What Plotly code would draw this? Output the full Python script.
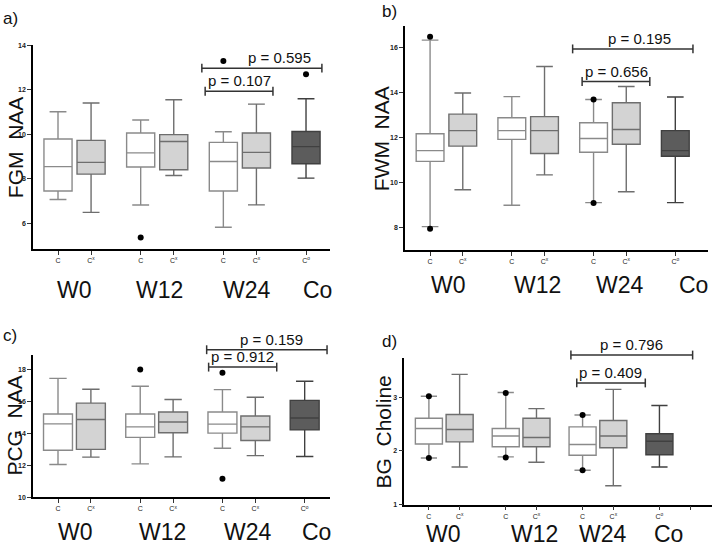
import plotly.graph_objects as go

FONT = "Liberation Sans, Arial, sans-serif"

# ---------------- data ----------------
groups = ["W0", "W12", "W24", "Co"]
tick_labels = ["C", "C<sup>x</sup>", "C", "C<sup>x</sup>", "C", "C<sup>x</sup>", "C<sup>o</sup>"]
panel_titles = ["FGM  NAA", "FWM  NAA", "PCG  NAA", "BG  Choline"]
panel_letters = ["a)", "b)", "c)", "d)"]

# FGM NAA (panel a) : C boxes (W0, W12, W24), Cx boxes (W0, W12, W24), Co box
a_c_low = [7.07, 6.82, 5.82]
a_c_q1 = [7.45, 8.53, 7.45]
a_c_med = [8.55, 9.17, 8.78]
a_c_q3 = [9.79, 10.06, 9.64]
a_c_up = [11.02, 10.65, 10.12]
a_cx_low = [6.49, 8.15, 6.83]
a_cx_q1 = [8.21, 8.41, 8.49]
a_cx_med = [8.74, 9.68, 9.19]
a_cx_q3 = [9.73, 9.99, 10.06]
a_cx_up = [11.41, 11.56, 11.36]
a_co = [8.03, 8.68, 9.45, 10.13, 11.60]
a_out_box = [2, 4, 6]
a_out_val = [5.36, 13.30, 12.71]
a_p = ["p = 0.595", "p = 0.107"]

# FWM NAA (panel b)
b_c_low = [8.03, 8.98, 9.10]
b_c_q1 = [10.93, 11.91, 11.34]
b_c_med = [11.41, 12.30, 11.95]
b_c_q3 = [12.16, 12.87, 12.65]
b_c_up = [16.32, 13.81, 13.68]
b_cx_low = [9.67, 10.33, 9.58]
b_cx_q1 = [11.61, 11.28, 11.69]
b_cx_med = [12.30, 12.30, 12.35]
b_cx_q3 = [13.03, 12.92, 13.54]
b_cx_up = [13.97, 15.15, 14.26]
b_co = [9.10, 11.16, 11.41, 12.30, 13.79]
b_out_box = [0, 0, 4, 4]
b_out_val = [16.47, 7.94, 13.68, 9.08]
b_p = ["p = 0.195", "p = 0.656"]

# PCG NAA (panel c)
c_c_low = [12.06, 12.10, 13.08]
c_c_q1 = [12.95, 13.76, 14.03]
c_c_med = [14.61, 14.42, 14.59]
c_c_q3 = [15.23, 15.23, 15.35]
c_c_up = [17.46, 16.97, 16.76]
c_cx_low = [12.52, 12.54, 12.62]
c_cx_q1 = [13.01, 14.05, 13.57]
c_cx_med = [14.88, 14.73, 14.42]
c_cx_q3 = [15.91, 15.35, 15.10]
c_cx_up = [16.78, 16.14, 16.28]
c_co = [12.56, 14.23, 14.98, 16.08, 17.28]
c_out_box = [2, 4, 4]
c_out_val = [18.02, 17.81, 11.17]
c_p = ["p = 0.159", "p = 0.912"]

# BG Choline (panel d)
d_c_low = [1.87, 1.89, 1.64]
d_c_q1 = [2.13, 2.08, 1.92]
d_c_med = [2.42, 2.28, 2.12]
d_c_q3 = [2.61, 2.42, 2.45]
d_c_up = [3.02, 3.09, 2.67]
d_cx_low = [1.70, 1.79, 1.35]
d_cx_q1 = [2.17, 2.08, 2.06]
d_cx_med = [2.40, 2.25, 2.28]
d_cx_q3 = [2.68, 2.61, 2.57]
d_cx_up = [3.43, 2.79, 3.15]
d_co = [1.70, 1.93, 2.18, 2.32, 2.85]
d_out_box = [0, 0, 2, 2, 4, 4]
d_out_val = [3.02, 1.87, 3.08, 1.88, 2.67, 1.64]
d_p = ["p = 0.796", "p = 0.409"]

# ---------------- layout (positions / styles) ----------------
W, H = 712, 550
slots = [0, 1, 2.5, 3.5, 5, 6, 7.5]
c_slots = [slots[0], slots[2], slots[4]]
cx_slots = [slots[1], slots[3], slots[5]]

panels = [
    dict(data=(a_c_low, a_c_q1, a_c_med, a_c_q3, a_c_up, a_cx_low, a_cx_q1, a_cx_med, a_cx_q3, a_cx_up, a_co,
               a_out_box, a_out_val, a_p),
         px=(33, 330), py=(42, 248), xr=(-0.756, 8.225), yr=(4.85, 14), yt=[6, 8, 10, 12, 14],
         br_x=[(4.35, 7.98), (4.45, 6.5)], br_y=[12.98, 11.94], p_x=[6.71, 5.5],
         grp_x=[0.5, 3.08, 5.71, 7.86], grp_y=290, title_xy=(15, 145), letter_xy=(10, 15), bw=0.85,
         extra_tick=False),
    dict(data=(b_c_low, b_c_q1, b_c_med, b_c_q3, b_c_up, b_cx_low, b_cx_q1, b_cx_med, b_cx_q3, b_cx_up, b_co,
               b_out_box, b_out_val, b_p),
         px=(405, 708), py=(22.7, 249), xr=(-0.767, 8.5), yr=(7.0, 16.93), yt=[8, 10, 12, 14, 16],
         br_x=[(4.36, 8.04), (4.65, 6.72)], br_y=[15.93, 14.48], p_x=[6.4, 5.7],
         grp_x=[0.55, 3.28, 5.8, 8.07], grp_y=285, title_xy=(381, 137), letter_xy=(390, 8), bw=0.85,
         extra_tick=False),
    dict(data=(c_c_low, c_c_q1, c_c_med, c_c_q3, c_c_up, c_cx_low, c_cx_q1, c_cx_med, c_cx_q3, c_cx_up, c_co,
               c_out_box, c_out_val, c_p),
         px=(33, 330), py=(356, 499.7), xr=(-0.76, 8.27), yr=(10, 18.9), yt=[10, 12, 14, 16, 18],
         br_x=[(4.52, 8.18), (4.58, 6.65)], br_y=[19.26, 18.17], p_x=[6.5, 5.6],
         grp_x=[0.52, 3.19, 5.78, 7.87], grp_y=535, title_xy=(15, 427), letter_xy=(10, 336), bw=0.88,
         extra_tick=False),
    dict(data=(d_c_low, d_c_q1, d_c_med, d_c_q3, d_c_up, d_cx_low, d_cx_q1, d_cx_med, d_cx_q3, d_cx_up, d_co,
               d_out_box, d_out_val, d_p),
         px=(404.3, 712), py=(358.3, 507), xr=(-0.8, 9.21), yr=(1, 3.74), yt=[1, 2, 3],
         br_x=[(4.62, 8.58), (4.81, 7.04)], br_y=[3.79, 3.27], p_x=[6.6, 5.92],
         grp_x=[0.47, 3.42, 5.68, 7.81], grp_y=537, title_xy=(383, 433), letter_xy=(390, 342), bw=0.88,
         extra_tick=True),
]

fig = go.Figure()
shapes, annotations = [], []

for i, p in enumerate(panels):
    (c_low, c_q1, c_med, c_q3, c_up, cx_low, cx_q1, cx_med, cx_q3, cx_up, co,
     out_box, out_val, ptxt) = p["data"]
    sfx = "" if i == 0 else str(i + 1)
    xa, ya = "x" + sfx, "y" + sfx
    dx = [p["px"][0] / W, p["px"][1] / W]
    dy = [1 - p["py"][1] / H, 1 - p["py"][0] / H]

    def to_py(v, dy=dy, yr=p["yr"]):
        return dy[0] + (v - yr[0]) / (yr[1] - yr[0]) * (dy[1] - dy[0])

    common = dict(xaxis=xa, yaxis=ya, width=p["bw"], whiskerwidth=0.6, showlegend=False,
                  hoverinfo="skip", boxpoints=False)
    fig.add_trace(go.Box(x=c_slots, lowerfence=c_low, q1=c_q1, median=c_med, q3=c_q3, upperfence=c_up,
                         fillcolor="white", line=dict(color="#8a8a8a", width=1.4), **common))
    fig.add_trace(go.Box(x=cx_slots, lowerfence=cx_low, q1=cx_q1, median=cx_med, q3=cx_q3, upperfence=cx_up,
                         fillcolor="#d3d3d3", line=dict(color="#6e6e6e", width=1.4), **common))
    fig.add_trace(go.Box(x=[slots[6]], lowerfence=[co[0]], q1=[co[1]], median=[co[2]], q3=[co[3]],
                         upperfence=[co[4]], fillcolor="#5c5c5c", line=dict(color="#404040", width=1.4),
                         **common))
    fig.add_trace(go.Scatter(x=[slots[k] for k in out_box], y=out_val, mode="markers", xaxis=xa, yaxis=ya,
                             marker=dict(color="black", size=6), showlegend=False, hoverinfo="skip",
                             cliponaxis=False))

    tv = list(slots) + ([8.5] if p["extra_tick"] else [])
    tt = list(tick_labels) + ([" "] if p["extra_tick"] else [])
    fig.layout[("xaxis" + sfx)] = dict(
        domain=dx, range=list(p["xr"]), anchor=ya, showgrid=False, zeroline=False,
        showline=True, linecolor="black", linewidth=1.5, ticks="outside", ticklen=4, tickwidth=1,
        tickcolor="#333", tickvals=tv, ticktext=tt, tickangle=0,
        tickfont=dict(family=FONT, size=7, color="#222"), fixedrange=True)
    fig.layout[("yaxis" + sfx)] = dict(
        domain=dy, range=list(p["yr"]), anchor=xa, showgrid=False, zeroline=False,
        showline=True, linecolor="black", linewidth=1.5, ticks="outside", ticklen=4, tickwidth=1,
        tickcolor="#333", tickvals=p["yt"], ticktext=["<b>%d</b>" % v for v in p["yt"]],
        tickfont=dict(family=FONT, size=7, color="#222"), fixedrange=True)

    # significance brackets
    for (x0, x1), yv, txt, tx in zip(p["br_x"], p["br_y"], ptxt, p["p_x"]):
        yp = to_py(yv)
        tick = 4.5 / H
        shapes.append(dict(type="line", xref=xa, yref="paper", x0=x0, x1=x1, y0=yp, y1=yp,
                           line=dict(color="#333", width=1.5)))
        for xe in (x0, x1):
            shapes.append(dict(type="line", xref=xa, yref="paper", x0=xe, x1=xe, y0=yp - tick, y1=yp + tick,
                               line=dict(color="#333", width=1.5)))
        annotations.append(dict(x=tx, y=yp, xref=xa, yref="paper", text=txt, showarrow=False,
                                xanchor="center", yanchor="bottom", yshift=0,
                                font=dict(family=FONT, size=15, color="#111")))

    # group labels
    for g, gx in zip(groups, p["grp_x"]):
        annotations.append(dict(x=gx, y=1 - p["grp_y"] / H, xref=xa, yref="paper", text=g,
                                showarrow=False, xanchor="center", yanchor="middle",
                                font=dict(family=FONT, size=23, color="#111")))
    # y title
    annotations.append(dict(x=p["title_xy"][0] / W, y=1 - p["title_xy"][1] / H, xref="paper", yref="paper",
                            text=panel_titles[i], showarrow=False, textangle=-90, xanchor="center",
                            yanchor="middle", font=dict(family=FONT, size=21, color="#111")))
    # panel letter
    annotations.append(dict(x=p["letter_xy"][0] / W, y=1 - p["letter_xy"][1] / H, xref="paper", yref="paper",
                            text=panel_letters[i], showarrow=False, xanchor="center", yanchor="middle",
                            font=dict(family=FONT, size=17, color="#111")))

fig.update_layout(width=W, height=H, autosize=False, margin=dict(l=0, r=0, t=0, b=0),
                  paper_bgcolor="white", plot_bgcolor="white", boxmode="overlay",
                  shapes=shapes, annotations=annotations, showlegend=False)
fig.write_html("out.html", config={"displayModeBar": False},
               post_script="document.body.style.margin='0';document.body.style.overflow='hidden';")
